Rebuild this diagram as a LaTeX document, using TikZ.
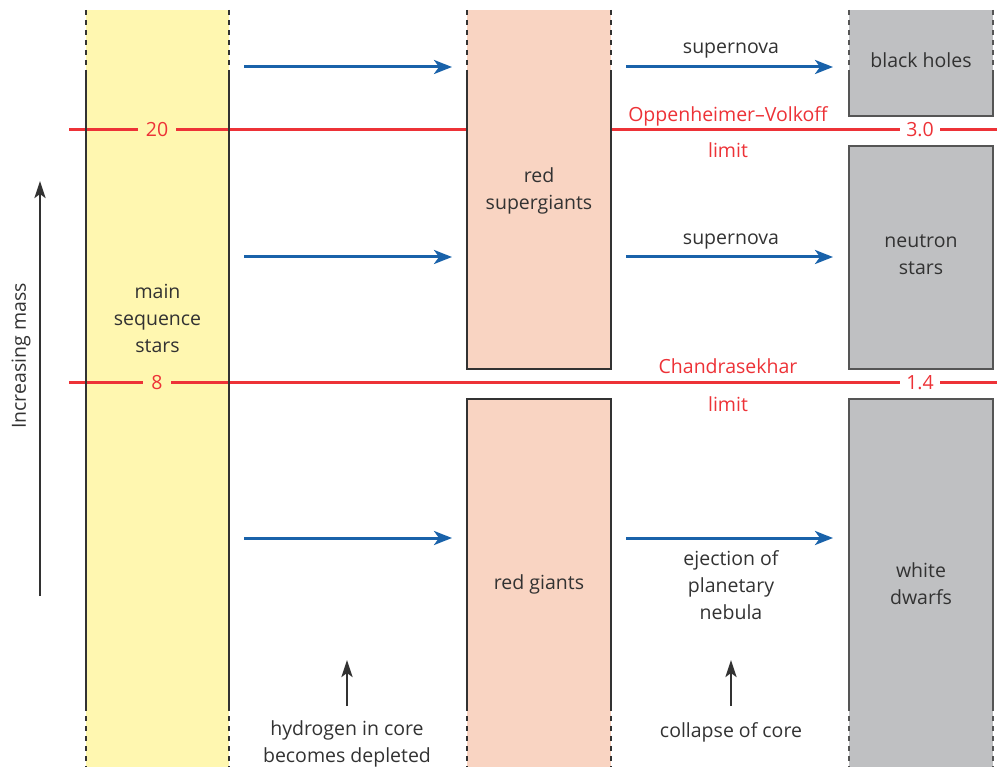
\documentclass[tikz,border=0pt]{standalone}
\usepackage{fontspec}
\setmainfont{Open Sans}
\usetikzlibrary{arrows.meta}
\definecolor{msyellow}{RGB}{255,247,176}
\definecolor{rgsalmon}{RGB}{249,212,194}
\definecolor{remgray}{RGB}{191,192,194}
\definecolor{limitred}{RGB}{237,50,55}
\definecolor{flowblue}{RGB}{25,98,170}
\definecolor{inkgray}{RGB}{50,50,50}
\definecolor{boxedge}{RGB}{85,85,85}

\begin{document}
\begin{tikzpicture}[x=1pt,y=-1pt,
  lbl/.style={font=\fontsize{19.5}{27}\selectfont, text=inkgray, align=center, inner sep=0pt},
  limlbl/.style={font=\fontsize{19.5}{27}\selectfont, text=limitred, align=center, inner sep=0pt},
  limline/.style={draw=limitred, line width=3pt},
  flow/.style={draw=flowblue, line width=3pt, -{Stealth[length=18pt,width=14pt,inset=5pt]}},
  cause/.style={draw=inkgray, line width=2.5pt, -{Stealth[length=17pt,width=11pt,inset=4pt]}},
  edge/.style={draw=inkgray, line width=2pt},
  edgedash/.style={edge, dash pattern=on 5pt off 5pt},
  grayedge/.style={draw=boxedge, line width=2pt},
  graydash/.style={grayedge, dash pattern=on 5pt off 5pt},
]
\useasboundingbox (0,0) rectangle (997,767);

% main sequence band
\fill[msyellow] (86,10) rectangle (229,767);

% mass limits
\draw[limline] (69,130) -- (997,130);
\draw[limline] (69,383) -- (997,383);
\node[limlbl, fill=msyellow, inner xsep=8pt] (m20) at (157,130) {20};
\node[limlbl, fill=msyellow, inner xsep=8pt] (m8) at (157,383) {8};
\node[limlbl, fill=white, inner xsep=6pt] (m30) at (920,130) {3.0};
\node[limlbl, fill=white, inner xsep=6pt] (m14) at (920,383) {1.4};
\node[limlbl] (ovname) at (728,116) {Oppenheimer–Volkoff};
\node[limlbl] (ovlimit) at (728,150) {limit};
\node[limlbl] (chname) at (728,366) {Chandrasekhar};
\node[limlbl] (chlimit) at (728,404) {limit};

% giant stages
\fill[rgsalmon] (467,10) rectangle (611,369);
\fill[rgsalmon] (467,399) rectangle (611,767);

% end states
\fill[remgray] (849,10) rectangle (993,116);
\fill[remgray] (849,146) rectangle (993,369);
\fill[remgray] (849,399) rectangle (993,767);

% outlines of the main sequence band
\foreach \xx in {86,229} {
  \draw[edgedash] (\xx,10) -- (\xx,70);
  \draw[edge] (\xx,70) -- (\xx,706);
  \draw[edgedash] (\xx,706) -- (\xx,767);
}

% outlines of the giant stages
\draw[edgedash] (467,10) -- (467,70);
\draw[edgedash] (611,10) -- (611,70);
\draw[edge] (467,70) -- (467,369) -- (611,369) -- (611,70);
\draw[edge] (467,706) -- (467,399) -- (611,399) -- (611,706);
\draw[edgedash] (467,706) -- (467,767);
\draw[edgedash] (611,706) -- (611,767);

% outlines of the end states
\draw[graydash] (849,10) -- (849,70);
\draw[graydash] (993,10) -- (993,70);
\draw[grayedge] (849,70) -- (849,116) -- (993,116) -- (993,70);
\draw[grayedge] (849,146) rectangle (993,369);
\draw[grayedge] (849,706) -- (849,399) -- (993,399) -- (993,706);
\draw[graydash] (849,706) -- (849,767);
\draw[graydash] (993,706) -- (993,767);

% stage names
\node[lbl] (ms) at (157.5,318) {main\\sequence\\stars};
\node[lbl] (rsg) at (539,191) {red\\supergiants};
\node[lbl] (rg) at (539,584) {red giants};
\node[lbl] (bh) at (921,60) {black holes};
\node[lbl] (ns) at (921,255) {neutron\\stars};
\node[lbl] (wd) at (921,584) {white\\dwarfs};

% evolution arrows
\coordinate (ms1) at (244,67);  \coordinate (rsg1) at (452,67);
\coordinate (ms2) at (244,257); \coordinate (rsg2) at (452,257);
\coordinate (ms3) at (244,538); \coordinate (rg3) at (452,538);
\coordinate (rsgout1) at (626,67);  \coordinate (bhin) at (833,67);
\coordinate (rsgout2) at (626,257); \coordinate (nsin) at (833,257);
\coordinate (rgout) at (626,538);   \coordinate (wdin) at (833,538);
\draw[flow] (ms1) -- (rsg1);
\draw[flow] (ms2) -- (rsg2);
\draw[flow] (ms3) -- (rg3);
\draw[flow] (rsgout1) -- (bhin);
\draw[flow] (rsgout2) -- (nsin);
\draw[flow] (rgout) -- (wdin);
\node[lbl] (sn1) at (731,51) {supernova};
\node[lbl] (sn2) at (731,242) {supernova};
\node[lbl] (ejec) at (731,585) {ejection of\\planetary\\nebula};

% causes
\node[lbl] (hcore) at (347,744) {hydrogen in core\\becomes depleted};
\node[lbl] (ccore) at (731,732) {collapse of core};
\coordinate (h0) at (347,706); \coordinate (h1) at (347,660);
\coordinate (c0) at (731,706); \coordinate (c1) at (731,660);
\draw[cause] (h0) -- (h1);
\draw[cause] (c0) -- (c1);

% mass axis
\coordinate (mlo) at (40,596); \coordinate (mhi) at (40,181);
\draw[cause] (mlo) -- (mhi);
\node[lbl, rotate=90] (mass) at (21,356) {Increasing mass};
\end{tikzpicture}
\end{document}
